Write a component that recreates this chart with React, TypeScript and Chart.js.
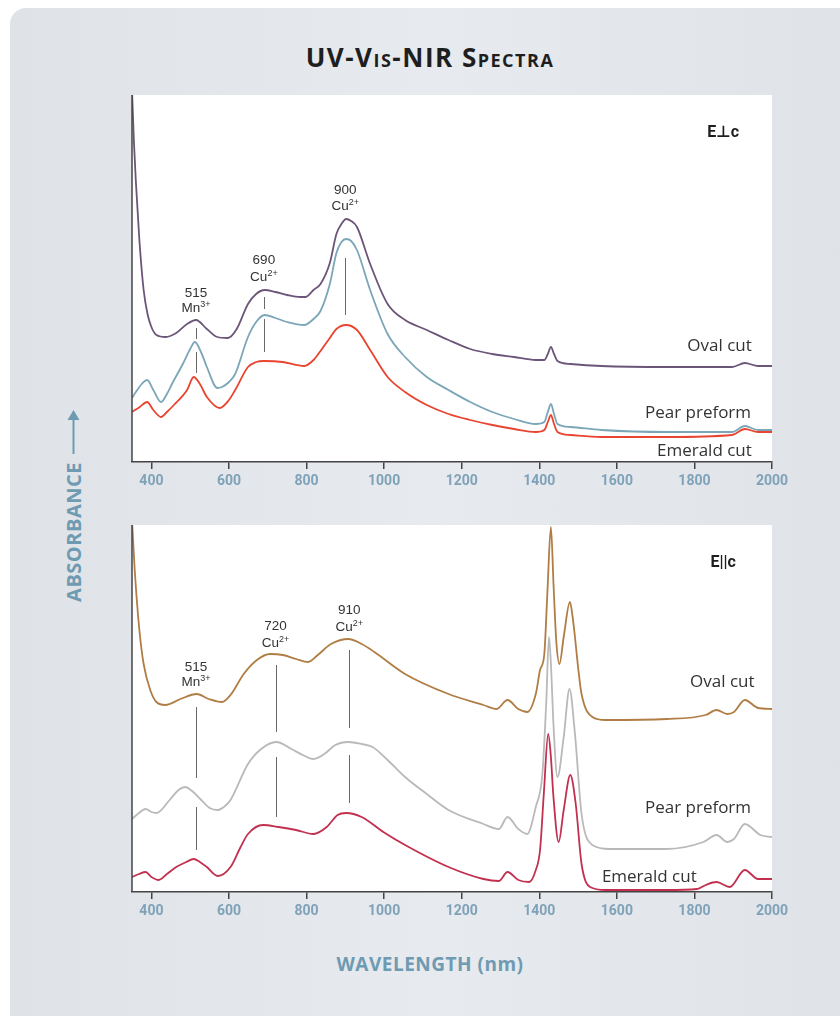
import React, { useEffect, useRef } from "react";
import { Chart, registerables } from "chart.js";

Chart.register(...registerables);

// ---------- Data (absorbance, arbitrary units) ----------
const xTickValues = [400, 600, 800, 1000, 1200, 1400, 1600, 1800, 2000];

// Panel 1: E ⊥ c
const perpOvalWl = [350, 355, 360, 369, 380, 390, 400, 413, 437, 464, 492, 515, 543, 570, 597, 620, 649, 670, 692, 720, 750, 784, 797, 818, 836, 860, 877, 890, 902, 915, 930, 964, 1009, 1054, 1110, 1166, 1222, 1279, 1335, 1391, 1413, 1422, 1430, 1438, 1447, 1481, 1560, 1728, 1897, 1930, 1964, 2000];
const perpOvalAbs = [372, 320, 280, 222, 172, 148, 135, 127, 125, 129, 138, 142, 133, 125, 124, 133, 158, 168, 172, 170, 167, 165, 165, 172, 178, 199, 228, 238, 243, 241, 235, 198, 158, 142, 132, 122, 113, 108, 105, 102, 102, 108, 115, 108, 101, 98, 96, 95, 95, 99, 96, 96];

const perpPearWl = [350, 360, 375, 389, 405, 425, 440, 453, 481, 500, 512, 530, 543, 570, 582, 600, 616, 649, 670, 692, 720, 750, 794, 818, 836, 860, 877, 890, 902, 915, 930, 964, 1009, 1054, 1110, 1166, 1222, 1279, 1335, 1391, 1413, 1422, 1430, 1438, 1447, 1481, 1560, 1728, 1897, 1930, 1964, 2000];
const perpPearAbs = [64, 70, 78, 82, 72, 60, 68, 78, 98, 113, 120, 108, 95, 74, 75, 80, 88, 125, 140, 147, 144, 140, 137, 143, 151, 178, 209, 220, 223, 221, 212, 172, 128, 105, 85, 72, 60, 50, 43, 38, 40, 50, 58, 48, 38, 35, 32, 30, 30, 36, 32, 32];

const perpEmeraldWl = [350, 370, 389, 405, 425, 440, 458, 492, 509, 525, 543, 576, 600, 616, 649, 670, 690, 739, 794, 818, 836, 860, 877, 902, 930, 964, 1009, 1054, 1110, 1166, 1222, 1279, 1335, 1391, 1413, 1422, 1430, 1438, 1447, 1481, 1560, 1728, 1897, 1930, 1964, 2000];
const perpEmeraldAbs = [50, 55, 60, 52, 45, 50, 57, 72, 85, 78, 65, 54, 62, 72, 95, 100, 101, 100, 96, 102, 111, 124, 133, 137, 132, 112, 85, 70, 57, 48, 42, 37, 33, 30, 32, 40, 47, 38, 30, 27, 25, 25, 27, 33, 30, 30];

// Panel 2: E || c
const parOvalWl = [350, 357, 369, 380, 397, 413, 436, 475, 517, 548, 582, 604, 638, 672, 706, 739, 773, 804, 829, 863, 908, 942, 975, 1054, 1166, 1256, 1290, 1318, 1346, 1369, 1391, 1402, 1413, 1421, 1430, 1437, 1444, 1452, 1463, 1479, 1486, 1492, 1500, 1509, 1537, 1571, 1728, 1829, 1857, 1885, 1902, 1930, 1964, 2000];
const parOvalAbs = [372, 322, 262, 228, 202, 190, 187, 193, 198, 193, 190, 197, 218, 232, 238, 237, 233, 230, 237, 248, 253, 248, 240, 218, 198, 187, 183, 192, 183, 180, 198, 222, 238, 300, 365, 305, 250, 228, 255, 290, 275, 255, 225, 198, 175, 172, 173, 177, 182, 178, 180, 192, 184, 183];

const parPearWl = [350, 365, 385, 400, 413, 447, 470, 487, 505, 526, 550, 571, 590, 604, 649, 683, 722, 761, 790, 818, 846, 874, 908, 942, 970, 1009, 1054, 1110, 1166, 1256, 1296, 1318, 1346, 1369, 1391, 1408, 1418, 1425, 1431, 1436, 1447, 1463, 1478, 1492, 1509, 1537, 1582, 1728, 1823, 1857, 1885, 1902, 1930, 1970, 2000];
const parPearAbs = [73, 78, 83, 80, 79, 92, 102, 105, 101, 93, 84, 82, 86, 92, 128, 143, 150, 143, 137, 133, 138, 147, 150, 148, 145, 132, 115, 98, 82, 68, 63, 75, 63, 58, 85, 118, 190, 255, 220, 172, 115, 155, 203, 158, 78, 47, 43, 43, 50, 57, 50, 53, 68, 57, 55];

const parEmeraldWl = [350, 368, 385, 400, 419, 440, 464, 490, 509, 525, 543, 571, 604, 630, 649, 688, 728, 773, 818, 852, 880, 902, 942, 998, 1054, 1166, 1256, 1296, 1318, 1346, 1374, 1391, 1402, 1412, 1423, 1430, 1436, 1450, 1463, 1480, 1494, 1509, 1531, 1571, 1728, 1807, 1829, 1857, 1891, 1930, 1964, 2000];
const parEmeraldAbs = [15, 18, 20, 15, 12, 18, 25, 30, 33, 30, 25, 16, 25, 45, 58, 67, 65, 62, 58, 65, 77, 79, 75, 60, 47, 25, 13, 11, 20, 12, 10, 22, 42, 100, 158, 135, 98, 50, 82, 117, 88, 28, 5, 2, 2, 3, 7, 10, 5, 22, 13, 13];

const seriesNames = ["Oval cut", "Pear preform", "Emerald cut"];

// Peak annotations (ion symbol + charge shown as superscript)
const perpPeakNm = [515, 690, 900];
const perpPeakIon = ["Mn", "Cu", "Cu"];
const perpPeakCharge = ["3+", "2+", "2+"];
const parPeakNm = [515, 720, 910];
const parPeakIon = ["Mn", "Cu", "Cu"];
const parPeakCharge = ["3+", "2+", "2+"];

const Y_MAX = 367;

type Annot = {
  peakNm: number[];
  ions: string[];
  charges: string[];
  numY: number[];
  ionY: number[];
  segs: [number, number, number][]; // nm, yTop, yBottom
  nameNm: number[];
  nameY: number[];
  tag: string;
  tagNm: number;
  tagY: number;
};

const perpAnnot: Annot = {
  peakNm: perpPeakNm,
  ions: perpPeakIon,
  charges: perpPeakCharge,
  numY: [169, 202, 272],
  ionY: [154, 185, 256],
  segs: [
    [515, 134, 123],
    [515, 110, 89],
    [690, 165, 153],
    [690, 143, 110],
    [900, 204, 147],
  ],
  nameNm: [1948, 1946, 1948],
  nameY: [116, 49, 11],
  tag: "E⊥c",
  tagNm: 1874,
  tagY: 329,
};

const parAnnot: Annot = {
  peakNm: parPeakNm,
  ions: parPeakIon,
  charges: parPeakCharge,
  numY: [225, 266, 282],
  ionY: [210, 249, 265],
  segs: [
    [515, 185, 114],
    [515, 85, 42],
    [720, 227, 160],
    [720, 135, 75],
    [910, 242, 164],
    [910, 137, 89],
  ],
  nameNm: [1955, 1946, 1806],
  nameY: [210, 84, 15],
  tag: "E||c",
  tagNm: 1874,
  tagY: 329,
};

const toPts = (wl: number[], abs: number[]) => wl.map((x, i) => ({ x, y: abs[i] }));

function makePlugin(a: Annot) {
  return {
    id: "annot",
    beforeDraw(chart: any) {
      const { ctx, chartArea } = chart;
      ctx.save();
      ctx.fillStyle = "#ffffff";
      ctx.fillRect(chartArea.left, chartArea.top, chartArea.right - chartArea.left, chartArea.bottom - chartArea.top);
      ctx.restore();
    },
    beforeDatasetsDraw(chart: any) {
      const { ctx } = chart;
      const xs = chart.scales.x;
      const ys = chart.scales.y;
      ctx.save();
      ctx.strokeStyle = "#6a6a6a";
      ctx.lineWidth = 1;
      a.segs.forEach(([nm, y1, y2]) => {
        const px = Math.round(xs.getPixelForValue(nm)) + 0.5;
        ctx.beginPath();
        ctx.moveTo(px, ys.getPixelForValue(y1));
        ctx.lineTo(px, ys.getPixelForValue(y2));
        ctx.stroke();
      });
      ctx.restore();
    },
    afterDraw(chart: any) {
      const { ctx, chartArea } = chart;
      const xs = chart.scales.x;
      const ys = chart.scales.y;
      ctx.save();
      // left axis line
      ctx.strokeStyle = "#444";
      ctx.lineWidth = 1.5;
      ctx.beginPath();
      ctx.moveTo(chartArea.left, chartArea.top);
      ctx.lineTo(chartArea.left, chartArea.bottom);
      ctx.stroke();
      // peak labels
      ctx.fillStyle = "#333";
      ctx.textBaseline = "middle";
      const baseFont = "13.5px 'Liberation Sans', Arial, sans-serif";
      const supFont = "9px 'Liberation Sans', Arial, sans-serif";
      a.peakNm.forEach((nm, i) => {
        const px = xs.getPixelForValue(nm);
        ctx.font = baseFont;
        ctx.textAlign = "center";
        ctx.fillText(String(nm), px, ys.getPixelForValue(a.numY[i]));
        const py = ys.getPixelForValue(a.ionY[i]);
        const wb = ctx.measureText(a.ions[i]).width;
        ctx.font = supFont;
        const ws = ctx.measureText(a.charges[i]).width;
        const x0 = px - (wb + ws) / 2;
        ctx.textAlign = "left";
        ctx.font = baseFont;
        ctx.fillText(a.ions[i], x0, py);
        ctx.font = supFont;
        ctx.fillText(a.charges[i], x0 + wb, py - 3);
      });
      // series names
      ctx.font = "17px 'Open Sans', 'Noto Sans', sans-serif";
      ctx.fillStyle = "#333";
      ctx.textAlign = "right";
      seriesNames.forEach((n, i) => {
        ctx.fillText(n, xs.getPixelForValue(a.nameNm[i]), ys.getPixelForValue(a.nameY[i]));
      });
      // panel tag
      ctx.font = "bold 16px Roboto, 'DejaVu Sans', sans-serif";
      ctx.textAlign = "center";
      ctx.fillStyle = "#1e1e1e";
      ctx.fillText(a.tag, xs.getPixelForValue(a.tagNm), ys.getPixelForValue(a.tagY));
      ctx.restore();
    },
  };
}

function makeConfig(datasets: any[], annot: Annot) {
  return {
    type: "line" as const,
    data: { datasets },
    options: {
      animation: false as const,
      responsive: false,
      maintainAspectRatio: false,
      layout: { padding: { left: 12, right: 38, top: 10, bottom: 11 } },
      elements: { point: { radius: 0 }, line: { borderWidth: 1.8, cubicInterpolationMode: "monotone" as const } },
      plugins: { legend: { display: false }, tooltip: { enabled: false } },
      scales: {
        x: {
          type: "linear" as const,
          min: 350,
          max: 2000,
          afterBuildTicks: (s: any) => {
            s.ticks = xTickValues.map((v) => ({ value: v }));
          },
          afterFit: (s: any) => {
            s.height = 32;
          },
          grid: { drawOnChartArea: false, drawTicks: true, tickLength: 7, color: "#444", lineWidth: 1.5 },
          border: { display: true, color: "#444", width: 1.5 },
          ticks: {
            autoSkip: false,
            maxRotation: 0,
            padding: 4,
            color: "#7fa2b8",
            callback: (v: any) => String(v),
            font: { family: "Roboto, sans-serif", size: 14, weight: "bold" as const },
          },
        },
        y: { display: false, min: 0, max: Y_MAX },
      },
    },
    plugins: [makePlugin(annot)],
  };
}

function Panel({ datasets, annot, top }: { datasets: any[]; annot: Annot; top: number }) {
  const ref = useRef<HTMLCanvasElement | null>(null);
  useEffect(() => {
    if (!ref.current) return;
    const chart = new Chart(ref.current, makeConfig(datasets, annot) as any);
    return () => chart.destroy();
  }, []);
  return (
    <canvas
      ref={ref}
      width={690}
      height={420}
      style={{ position: "absolute", left: 120, top, width: 690, height: 420 }}
    />
  );
}

const axisTitleStyle: React.CSSProperties = {
  fontFamily: "'Open Sans', Lato, sans-serif",
  fontWeight: 700,
  fontSize: 19,
  letterSpacing: 0.5,
  color: "#6e9bb1",
  whiteSpace: "nowrap",
};

export default function App() {
  const perpSets = [
    { label: seriesNames[0], data: toPts(perpOvalWl, perpOvalAbs), borderColor: "#6b5579" },
    { label: seriesNames[1], data: toPts(perpPearWl, perpPearAbs), borderColor: "#7ba6b8" },
    { label: seriesNames[2], data: toPts(perpEmeraldWl, perpEmeraldAbs), borderColor: "#e8442f" },
  ];
  const parSets = [
    { label: seriesNames[0], data: toPts(parOvalWl, parOvalAbs), borderColor: "#b07d44" },
    { label: seriesNames[1], data: toPts(parPearWl, parPearAbs), borderColor: "#b9b9b9" },
    { label: seriesNames[2], data: toPts(parEmeraldWl, parEmeraldAbs), borderColor: "#c2304f" },
  ];
  return (
    <div style={{ position: "absolute", left: 0, top: 0, width: 840, height: 1016, background: "#fff", overflow: "hidden" }}>
      <div
        style={{
          position: "absolute",
          left: 10,
          top: 8,
          width: 850,
          height: 1030,
          borderRadius: 16,
          background: "linear-gradient(90deg, #dfe3e8 0%, #e7eaee 50%, #dfe3e8 100%)",
        }}
      />
      <div
        style={{
          position: "absolute",
          left: 0,
          width: 860,
          top: 39,
          textAlign: "center",
          fontFamily: "'Open Sans', Lato, sans-serif",
          fontWeight: 700,
          fontSize: 26,
          letterSpacing: 1.5,
          fontVariant: "small-caps",
          color: "#1e1e1e",
        }}
      >
        UV-Vis-NIR Spectra
      </div>
      <div
        style={{
          ...axisTitleStyle,
          fontSize: 20,
          position: "absolute",
          left: 73,
          top: 507,
          transform: "translate(-50%, -50%) rotate(-90deg)",
          display: "flex",
          alignItems: "center",
        }}
      >
        <span>ABSORBANCE</span>
        <span
          style={{
            display: "inline-block",
            position: "relative",
            width: 42,
            height: 2,
            marginLeft: 8,
            background: "#6e9bb1",
          }}
        >
          <span
            style={{
              position: "absolute",
              right: -2,
              top: -5,
              width: 0,
              height: 0,
              borderTop: "6px solid transparent",
              borderBottom: "6px solid transparent",
              borderLeft: "10px solid #6e9bb1",
            }}
          />
        </span>
      </div>
      <div
        style={{
          ...axisTitleStyle,
          position: "absolute",
          left: 0,
          width: 860,
          top: 951,
          textAlign: "center",
        }}
      >
        WAVELENGTH (nm)
      </div>
      <Panel datasets={perpSets} annot={perpAnnot} top={85} />
      <Panel datasets={parSets} annot={parAnnot} top={515} />
    </div>
  );
}
